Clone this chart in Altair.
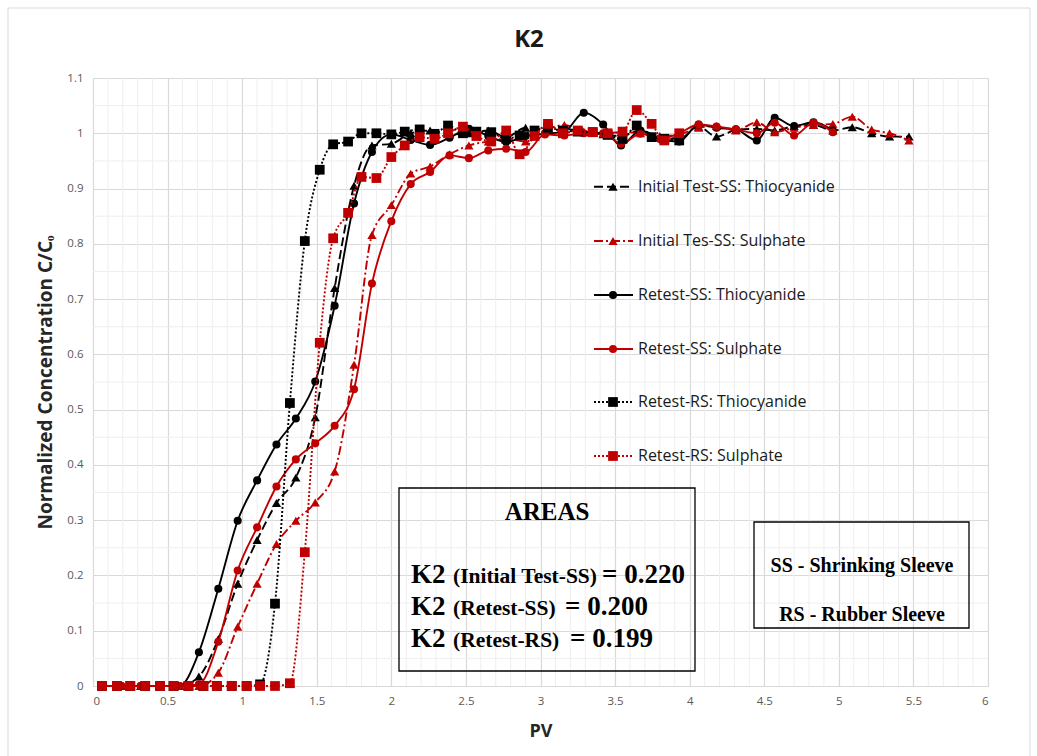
import altair as alt
import pandas as pd

# ---------------- data ----------------
# PV sampling positions of the shrinking-sleeve runs
pv_ss = [0.06, 0.19, 0.32, 0.45, 0.58, 0.71, 0.84, 0.97, 1.10, 1.23, 1.36, 1.49,
         1.62, 1.75, 1.87, 2.00, 2.13, 2.26, 2.39, 2.52, 2.65, 2.77, 2.90, 3.03,
         3.16, 3.29, 3.42, 3.54, 3.67, 3.80, 3.93, 4.06, 4.18, 4.31, 4.45, 4.57,
         4.70, 4.83, 4.96]
pv_ss_initial = pv_ss + [5.09, 5.22, 5.34, 5.47]
# PV sampling positions of the rubber-sleeve retest
pv_rs = [0.06, 0.16, 0.25, 0.35, 0.45, 0.54, 0.64, 0.74, 0.83, 0.93, 1.03, 1.12,
         1.22, 1.32, 1.42, 1.52, 1.61, 1.71, 1.80, 1.90, 2.00, 2.09, 2.19, 2.29,
         2.38, 2.48, 2.57, 2.67, 2.77, 2.86, 2.96, 3.05, 3.15, 3.25, 3.35, 3.45,
         3.55, 3.645, 3.745, 3.83, 3.93]

init_ss_thio = [0, 0, 0, 0, 0, 0.017, 0.085, 0.185, 0.264, 0.331, 0.377, 0.486,
                0.720, 0.905, 0.978, 0.981, 1.000, 1.005, 0.998, 1.000, 1.005, 0.993,
                1.010, 1.003, 1.008, 1.002, 0.998, 0.995, 1.005, 0.993, 0.990, 1.012,
                0.994, 1.006, 1.008, 1.005, 1.013, 1.015, 1.005, 1.011, 1.000, 0.994,
                0.994]
init_ss_sulph = [0, 0, 0, 0, 0, 0, 0.024, 0.107, 0.185, 0.257, 0.299, 0.332,
                 0.388, 0.581, 0.816, 0.870, 0.927, 0.940, 0.962, 0.978, 0.985, 0.990,
                 0.985, 1.005, 1.015, 1.003, 1.000, 1.002, 1.000, 0.995, 0.998, 1.010,
                 1.013, 1.005, 1.020, 1.002, 1.010, 1.015, 1.017, 1.030, 1.007, 1.000,
                 0.987]
retest_ss_thio = [0, 0, 0, 0, 0, 0.061, 0.176, 0.299, 0.372, 0.437, 0.484, 0.551,
                  0.688, 0.873, 0.966, 0.998, 0.988, 0.979, 0.992, 1.008, 0.995, 0.984,
                  0.995, 0.999, 1.003, 1.037, 1.016, 0.978, 1.005, 0.990, 0.985, 1.016,
                  1.010, 1.007, 0.987, 1.028, 1.013, 1.020, 1.005]
retest_ss_sulph = [0, 0, 0, 0, 0, 0.003, 0.080, 0.209, 0.287, 0.361, 0.410, 0.439,
                   0.471, 0.537, 0.728, 0.841, 0.908, 0.930, 0.960, 0.955, 0.969, 0.972,
                   0.966, 0.998, 0.996, 1.000, 1.000, 0.981, 0.999, 0.990, 1.000, 1.016,
                   1.012, 1.007, 1.000, 1.019, 0.996, 1.019, 1.002]
retest_rs_thio = [0, 0, 0, 0, 0, 0, 0, 0, 0, 0, 0, 0.003,
                  0.149, 0.512, 0.805, 0.934, 0.980, 0.985, 1.000, 1.000, 0.998, 1.003,
                  1.007, 0.999, 1.014, 1.000, 1.003, 1.002, 0.990, 0.996, 1.005, 1.010,
                  1.005, 1.003, 1.002, 0.997, 0.990, 1.014, 0.993, 0.990, 0.987]
retest_rs_sulph = [0, 0, 0, 0, 0, 0, 0, 0, 0, 0, 0, 0,
                   0, 0.005, 0.242, 0.621, 0.810, 0.856, 0.921, 0.919, 0.957, 0.978,
                   0.993, 0.990, 1.000, 1.012, 0.995, 0.985, 1.005, 0.962, 0.995, 1.017,
                   1.000, 1.005, 1.002, 1.000, 1.003, 1.042, 1.017, 0.987, 1.000]

series_names = ["Initial Test-SS: Thiocyanide", "Initial Tes-SS: Sulphate",
                "Retest-SS: Thiocyanide", "Retest-SS: Sulphate",
                "Retest-RS: Thiocyanide", "Retest-RS: Sulphate"]

x_ticks = [0, 0.5, 1, 1.5, 2, 2.5, 3, 3.5, 4, 4.5, 5, 5.5, 6]
y_ticks = [0, 0.1, 0.2, 0.3, 0.4, 0.5, 0.6, 0.7, 0.8, 0.9, 1, 1.1]

area_labels = ["(Initial Test-SS)", "(Retest-SS)", "(Retest-RS)"]
area_values = ["= 0.220", "= 0.200", "= 0.199"]
abbreviations = ["SS - Shrinking Sleeve", "RS - Rubber Sleeve"]

# ---------------- styling ----------------
BLACK = "#000000"
RED = "#c00000"
UI_FONT = "Open Sans"
SERIF = "Liberation Serif"
PLOT_W, PLOT_H = 895, 608

styles = [
    dict(color=BLACK, dash=[9, 4], shape="triangle-up", size=85),
    dict(color=RED, dash=[9, 3, 2, 3], shape="triangle-up", size=85),
    dict(color=BLACK, dash=None, shape="circle", size=65),
    dict(color=RED, dash=None, shape="circle", size=65),
    dict(color=BLACK, dash=[2, 2], shape="square", size=95),
    dict(color=RED, dash=[2, 2], shape="square", size=95),
]
series_x = [pv_ss_initial, pv_ss_initial, pv_ss, pv_ss, pv_rs, pv_rs]
series_y = [init_ss_thio, init_ss_sulph, retest_ss_thio, retest_ss_sulph,
            retest_rs_thio, retest_rs_sulph]

x_scale = alt.Scale(domain=[0, 6], nice=False, zero=False)
y_scale = alt.Scale(domain=[0, 1.1], nice=False, zero=False)

x_axis = alt.Axis(values=x_ticks, labelExpr="'' + datum.value", title="PV",
                  grid=True, gridColor="#d9d9d9", gridWidth=1.2,
                  domainColor="#d9d9d9", domainWidth=1.2, ticks=False,
                  labelPadding=9, labelColor="#595959", labelFontSize=11.5,
                  labelFont=UI_FONT, titleFont=UI_FONT, titleFontSize=18,
                  titleFontWeight="bold", titleColor="#262626",
                  titleY=45, titleBaseline="middle")
y_axis = alt.Axis(values=y_ticks, labelExpr="'' + datum.value",
                  title="Normalized Concentration C/Cₒ",
                  grid=True, gridColor="#d9d9d9", gridWidth=1.2,
                  domain=False, ticks=False, labelPadding=10,
                  labelColor="#595959", labelFontSize=11.5, labelFont=UI_FONT,
                  titleFont=UI_FONT, titleFontSize=19, titleFontWeight="bold",
                  titleColor="#262626", titleX=-48, titleY=PLOT_H / 2,
                  titleAngle=-90, titleBaseline="middle", titleAlign="center")


def xenc(field):
    return alt.X(field, type="quantitative", scale=x_scale, axis=x_axis)


def yenc(field):
    return alt.Y(field, type="quantitative", scale=y_scale, axis=y_axis)


# minor grid lines (0.1 PV and 0.05 C/Co steps)
minor_x = [i / 10 for i in range(1, 60) if i % 5]
minor_y = [(2 * i + 1) / 20 for i in range(11)]
minor_v = alt.Chart(pd.DataFrame({"v": minor_x})).mark_rule(
    color="#eeeeee", strokeWidth=1).encode(x=xenc("v"))
minor_h = alt.Chart(pd.DataFrame({"v": minor_y})).mark_rule(
    color="#eeeeee", strokeWidth=1).encode(y=yenc("v"))

layers = [minor_v, minor_h]

# outer chart frame
layers.append(alt.Chart(pd.DataFrame({"k": [0]})).mark_rect(
    fillOpacity=0, stroke="#d9d9d9", strokeWidth=1).encode(
    x=alt.value(-85), x2=alt.value(937), y=alt.value(-70), y2=alt.value(700)))

# curves and markers
for name, st, xs, ys in zip(series_names, styles, series_x, series_y):
    df = pd.DataFrame({"pv": xs, "c": ys, "series": name})
    line_kw = dict(color=st["color"], strokeWidth=1.9, interpolate="monotone")
    if st["dash"]:
        line_kw["strokeDash"] = st["dash"]
    line = alt.Chart(df).mark_line(**line_kw).encode(x=xenc("pv"), y=yenc("c"))
    pts = alt.Chart(df).mark_point(shape=st["shape"], filled=True, opacity=1,
                                   size=st["size"], color=st["color"]).encode(
        x=xenc("pv"), y=yenc("c"))
    layers += [line, pts]

# legend drawn inside the plot
leg_rows = [108.7, 163, 217, 271, 324, 378]
for name, st, ry in zip(series_names, styles, leg_rows):
    one = alt.Chart(pd.DataFrame({"series": [name]}))
    rule_kw = dict(color=st["color"], strokeWidth=1.9)
    if st["dash"]:
        rule_kw["strokeDash"] = st["dash"]
    layers.append(one.mark_rule(**rule_kw).encode(
        x=alt.value(501), x2=alt.value(540), y=alt.value(ry)))
    layers.append(one.mark_point(shape=st["shape"], filled=True, opacity=1,
                                 size=st["size"], color=st["color"]).encode(
        x=alt.value(520), y=alt.value(ry)))
    layers.append(one.mark_text(align="left", baseline="middle", font=UI_FONT,
                                fontSize=16, color="#1a1a1a").encode(
        x=alt.value(545), y=alt.value(ry), text="series:N"))

# chart title
layers.append(alt.Chart(pd.DataFrame({"t": ["K2"]})).mark_text(
    font=UI_FONT, fontSize=24, fontWeight="bold", color="#1a1a1a",
    align="center", baseline="middle").encode(
    x=alt.value(436), y=alt.value(-38), text="t:N"))

# AREAS box
layers.append(alt.Chart(pd.DataFrame({"k": [0]})).mark_rect(
    fillOpacity=0, stroke=BLACK, strokeWidth=1.3).encode(
    x=alt.value(306), x2=alt.value(602), y=alt.value(410), y2=alt.value(593)))
layers.append(alt.Chart(pd.DataFrame({"t": ["AREAS"]})).mark_text(
    font=SERIF, fontSize=25, fontWeight="bold", color=BLACK,
    align="center", baseline="middle").encode(
    x=alt.value(454), y=alt.value(434), text="t:N"))
area_baselines = [505, 537, 569]
value_x = [509, 472, 477]
for lab, val, by, vx in zip(area_labels, area_values, area_baselines, value_x):
    row = alt.Chart(pd.DataFrame({"k2": ["K2"], "lab": [lab], "val": [val]}))
    layers.append(row.mark_text(font=SERIF, fontSize=27, fontWeight="bold",
                                color=BLACK, align="left",
                                baseline="alphabetic").encode(
        x=alt.value(318), y=alt.value(by), text="k2:N"))
    layers.append(row.mark_text(font=SERIF, fontSize=21.5, fontWeight="bold",
                                color=BLACK, align="left",
                                baseline="alphabetic").encode(
        x=alt.value(360), y=alt.value(by), text="lab:N"))
    layers.append(row.mark_text(font=SERIF, fontSize=27, fontWeight="bold",
                                color=BLACK, align="left",
                                baseline="alphabetic").encode(
        x=alt.value(vx), y=alt.value(by), text="val:N"))

# abbreviation box
layers.append(alt.Chart(pd.DataFrame({"k": [0]})).mark_rect(
    fillOpacity=0, stroke=BLACK, strokeWidth=1.3).encode(
    x=alt.value(661), x2=alt.value(876), y=alt.value(444), y2=alt.value(550)))
for txt, ty in zip(abbreviations, [488, 537]):
    layers.append(alt.Chart(pd.DataFrame({"t": [txt]})).mark_text(
        font=SERIF, fontSize=20, fontWeight="bold", color=BLACK,
        align="center", baseline="middle").encode(
        x=alt.value(769), y=alt.value(ty), text="t:N"))

chart = alt.layer(*layers).properties(
    width=PLOT_W, height=PLOT_H,
    autosize=alt.AutoSizeParams(type="none"),
    padding={"left": 93, "top": 78, "right": 49, "bottom": 70},
    background="white",
).configure_view(stroke=None)

chart.save("out.html", embed_options={"renderer": "svg", "actions": False})
